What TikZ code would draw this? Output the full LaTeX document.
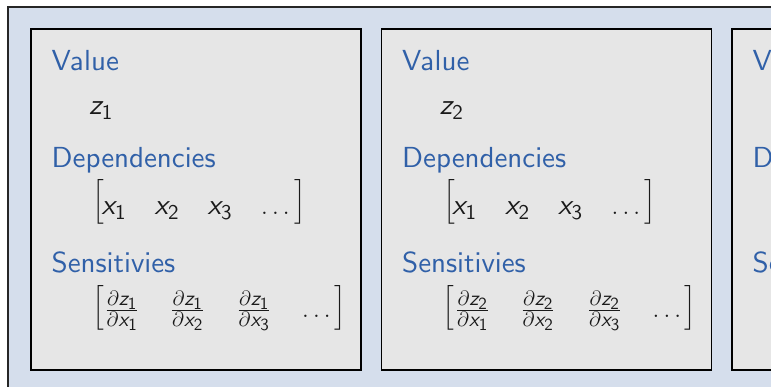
\documentclass[tikz,border=0pt]{standalone}
\usepackage{amsmath}
\usepackage{exscale}
\DeclareFontFamily{OT1}{sften}{}
\DeclareFontShape{OT1}{sften}{m}{n}{<-> cmss10}{}
\DeclareFontShape{OT1}{sften}{m}{sl}{<-> cmssi10}{}
\DeclareSymbolFont{sfsl}{OT1}{sften}{m}{sl}
\DeclareSymbolFont{sfup}{OT1}{sften}{m}{n}
\DeclareMathSymbol{x}{\mathalpha}{sfsl}{`x}
\DeclareMathSymbol{z}{\mathalpha}{sfsl}{`z}
\DeclareMathSymbol{1}{\mathord}{sfup}{`1}
\DeclareMathSymbol{2}{\mathord}{sfup}{`2}
\DeclareMathSymbol{3}{\mathord}{sfup}{`3}
\DeclareMathSizes{29}{29}{21}{17}
\definecolor{outerfill}{HTML}{D5DEEC}
\definecolor{panelfill}{HTML}{E6E6E6}
\definecolor{headblue}{HTML}{3060A8}
\definecolor{inktext}{HTML}{1A1A1A}
\newcommand\bigfont{\fontencoding{OT1}\fontfamily{sften}\fontsize{29}{35}\selectfont}
\tikzset{
  frameline/.style={draw=black!85, line width=1.3pt, fill=outerfill},
  panel/.style={draw=black, line width=1.6pt, fill=panelfill, minimum width=330pt,
    minimum height=341pt, inner sep=0pt, anchor=north west},
  heading/.style={anchor=base west, inner sep=0pt, text=headblue, font=\bigfont},
  mathtxt/.style={anchor=base west, inner sep=0pt, text=inktext, font=\bigfont},
  fracent/.style={anchor=base, inner sep=0pt, text=inktext, font=\bigfont},
  brack/.style={inner sep=0pt, text=inktext, font=\bigfont},
}
\begin{document}
\begin{tikzpicture}[x=1pt,y=-1pt]
\clip (0,0) rectangle (771,386);
\fill[white] (0,0) rectangle (771,386);
\draw[frameline] (8,7) rectangle (900,450);
\foreach \i/\x in {1/30,2/380.5,3/731}{
  \node[panel] (box\i) at (\x,28) {};
  \node[heading] (val\i) at (\x+21.5,70.5) {Value};
  \node[mathtxt] (z\i) at (\x+59,114) {$z_{\i}$};
  \node[heading] (dep\i) at (\x+21.5,167) {Dependencies};
  % dependency row
  \node[brack, anchor=west] (dl\i) at (\x+62.5,201.5) {$\Bigl[$};
  \node[mathtxt] (xa\i) at (\x+71.5,214) {$x_1$};
  \node[mathtxt] (xb\i) at (\x+124.5,214) {$x_2$};
  \node[mathtxt] (xc\i) at (\x+177.5,214) {$x_3$};
  \node[mathtxt] (xd\i) at (\x+231,214) {$\dots$};
  \node[brack, anchor=east] (dr\i) at (\x+276,201.5) {$\Bigr]$};
  \node[heading] (sen\i) at (\x+21.5,272) {Sensitivies};
  % sensitivity row
  \node[brack, anchor=west] (sl\i) at (\x+62,308) {$\Bigl[$};
  \node[fracent] (sa\i) at (\x+92,317) {$\frac{\partial z_{\i}}{\partial x_1}$};
  \node[fracent] (sb\i) at (\x+157.5,317) {$\frac{\partial z_{\i}}{\partial x_2}$};
  \node[fracent] (sc\i) at (\x+224,317) {$\frac{\partial z_{\i}}{\partial x_3}$};
  \node[mathtxt] (sd\i) at (\x+272,317) {$\dots$};
  \node[brack, anchor=east] (sr\i) at (\x+316,308) {$\Bigr]$};
}
\end{tikzpicture}
\end{document}
